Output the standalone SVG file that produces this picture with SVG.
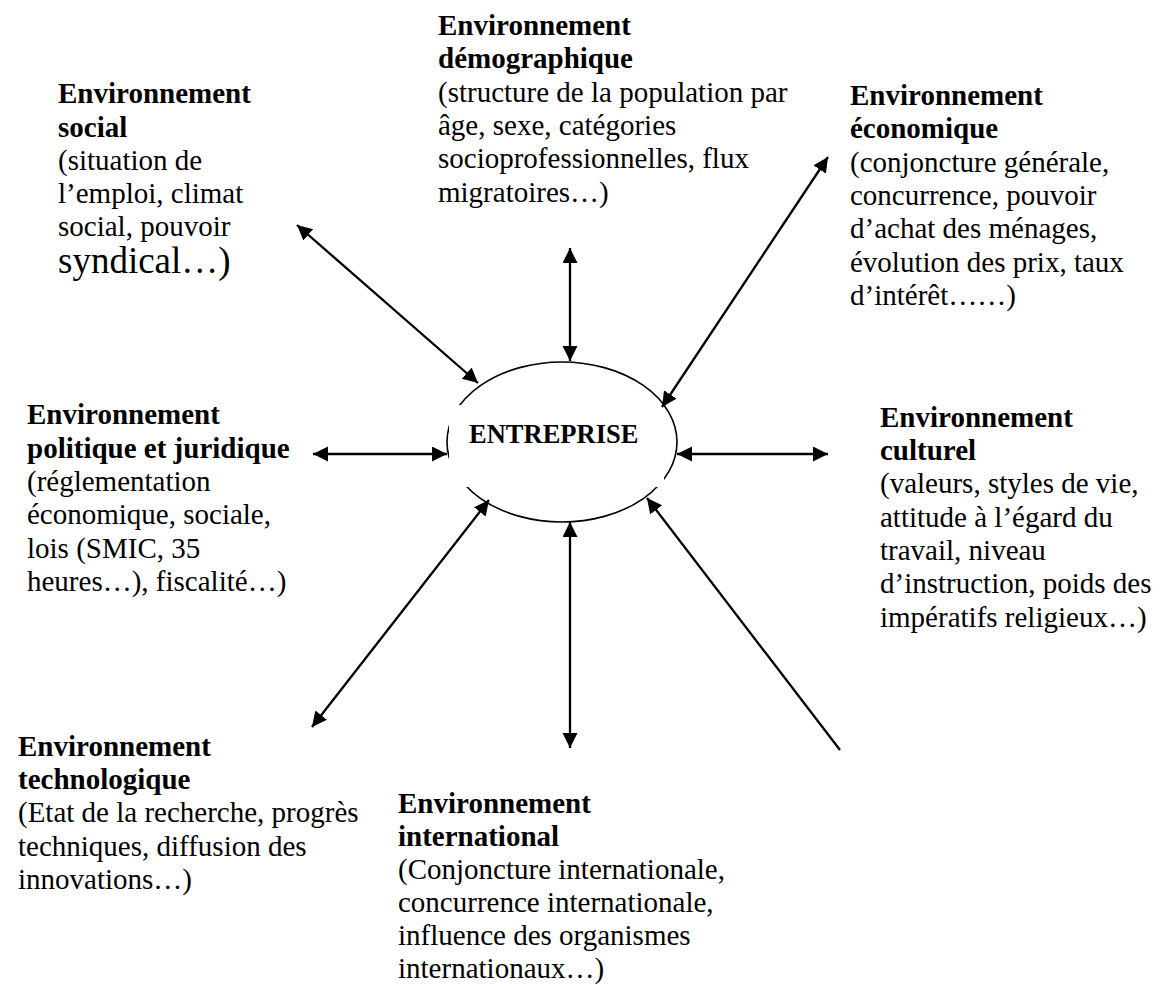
<svg xmlns="http://www.w3.org/2000/svg" width="1164" height="985" viewBox="0 0 1164 985">
<style>
text{font-family:"Liberation Serif","Times New Roman",serif;font-size:29px;fill:#000}
.h{font-weight:bold}
.big{font-size:37px}
.conn line{stroke:#000;stroke-width:2.3}
</style>
<defs>
<marker id="ah" markerUnits="userSpaceOnUse" markerWidth="16" markerHeight="16" refX="15" refY="7.5" orient="auto-start-reverse" viewBox="0 0 16 16">
<path d="M0,0 L15,7.5 L0,15 Z" fill="#000"/>
</marker>
</defs>
<rect width="1164" height="985" fill="#fff"/>
<g id="entreprise">
<ellipse cx="562" cy="442" rx="115" ry="80" fill="#fff" stroke="#000" stroke-width="1.6"/>
<rect x="449" y="405" width="215" height="82" fill="#fff"/>
<text x="469" y="443" class="h" style="font-size:26.5px">ENTREPRISE</text>
</g>
<g id="social">
<text x="58" y="103"><tspan class="h">Environnement</tspan><tspan x="58" y="137" class="h">social</tspan><tspan x="58" y="170">(situation de</tspan><tspan x="58" y="203">l’emploi, climat</tspan><tspan x="58" y="236">social, pouvoir</tspan><tspan x="58" y="273" class="big">syndical…)</tspan></text>
</g>
<g id="demographique">
<text x="438" y="35"><tspan class="h">Environnement</tspan><tspan x="438" y="68" class="h">démographique</tspan><tspan x="438" y="102">(structure de la population par</tspan><tspan x="438" y="135">âge, sexe, catégories</tspan><tspan x="438" y="168">socioprofessionnelles, flux</tspan><tspan x="438" y="202">migratoires…)</tspan></text>
</g>
<g id="economique">
<text x="850" y="105"><tspan class="h">Environnement</tspan><tspan x="850" y="138" class="h">économique</tspan><tspan x="850" y="172">(conjoncture générale,</tspan><tspan x="850" y="205">concurrence, pouvoir</tspan><tspan x="850" y="238">d’achat des ménages,</tspan><tspan x="850" y="272">évolution des prix, taux</tspan><tspan x="850" y="305">d’intérêt……)</tspan></text>
</g>
<g id="politique">
<text x="27" y="424"><tspan class="h">Environnement</tspan><tspan x="27" y="458" class="h">politique et juridique</tspan><tspan x="27" y="491">(réglementation</tspan><tspan x="27" y="524">économique, sociale,</tspan><tspan x="27" y="558">lois (SMIC, 35</tspan><tspan x="27" y="591">heures…), fiscalité…)</tspan></text>
</g>
<g id="culturel">
<text x="880" y="427"><tspan class="h">Environnement</tspan><tspan x="880" y="460" class="h">culturel</tspan><tspan x="880" y="493">(valeurs, styles de vie,</tspan><tspan x="880" y="527">attitude à l’égard du</tspan><tspan x="880" y="560">travail, niveau</tspan><tspan x="880" y="593">d’instruction, poids des</tspan><tspan x="880" y="627">impératifs religieux…)</tspan></text>
</g>
<g id="technologique">
<text x="18" y="756"><tspan class="h">Environnement</tspan><tspan x="18" y="789" class="h">technologique</tspan><tspan x="18" y="822">(Etat de la recherche, progrès</tspan><tspan x="18" y="856">techniques, diffusion des</tspan><tspan x="18" y="889">innovations…)</tspan></text>
</g>
<g id="international">
<text x="398" y="813"><tspan class="h">Environnement</tspan><tspan x="398" y="846" class="h">international</tspan><tspan x="398" y="879">(Conjoncture internationale,</tspan><tspan x="398" y="912">concurrence internationale,</tspan><tspan x="398" y="945">influence des organismes</tspan><tspan x="398" y="978">internationaux…)</tspan></text>
</g>
<g id="connectors" class="conn">
<line x1="297" y1="225" x2="478" y2="383" marker-start="url(#ah)" marker-end="url(#ah)"/>
<line x1="570" y1="248" x2="570" y2="361" marker-start="url(#ah)" marker-end="url(#ah)"/>
<line x1="828" y1="157" x2="662" y2="407" marker-start="url(#ah)" marker-end="url(#ah)"/>
<line x1="313" y1="454" x2="447" y2="454" marker-start="url(#ah)" marker-end="url(#ah)"/>
<line x1="677" y1="454" x2="828" y2="454" marker-start="url(#ah)" marker-end="url(#ah)"/>
<line x1="489" y1="500" x2="312" y2="727" marker-start="url(#ah)" marker-end="url(#ah)"/>
<line x1="570" y1="522" x2="570" y2="748" marker-start="url(#ah)" marker-end="url(#ah)"/>
<line x1="840" y1="750" x2="647" y2="498" marker-end="url(#ah)"/>
</g>
</svg>
